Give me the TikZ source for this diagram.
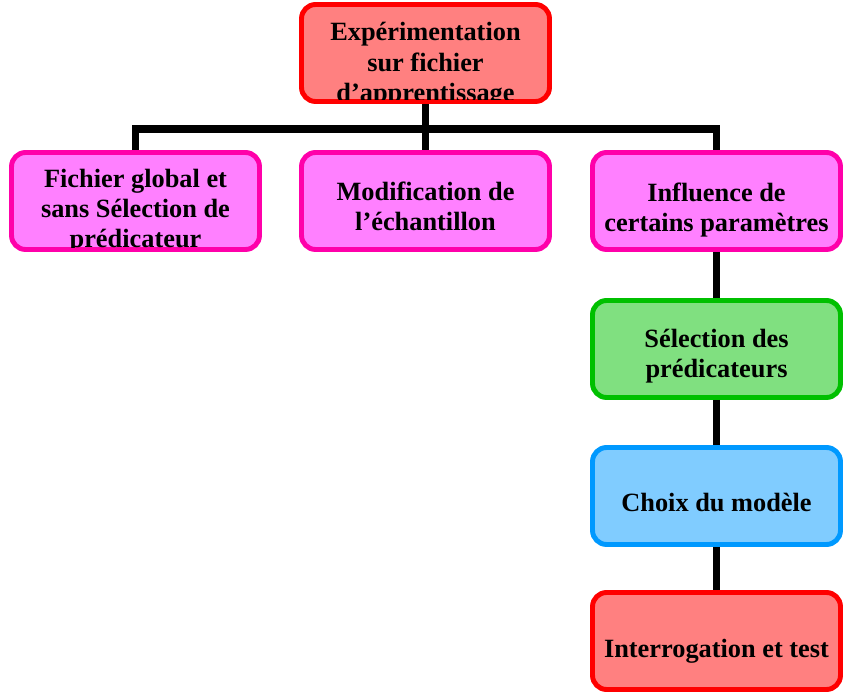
\documentclass[tikz,border=0pt]{standalone}
\usepackage{fontspec}
\setmainfont{Liberation Serif}

\definecolor{rougefond}{RGB}{255,128,128}
\definecolor{rougebord}{RGB}{255,0,0}
\definecolor{rosefond}{RGB}{255,128,255}
\definecolor{rosebord}{RGB}{255,0,170}
\definecolor{vertfond}{RGB}{128,224,128}
\definecolor{vertbord}{RGB}{0,192,0}
\definecolor{bleufond}{RGB}{128,204,255}
\definecolor{bleubord}{RGB}{0,153,255}

\begin{document}
\begin{tikzpicture}[x=0.02cm, y=-0.02cm]
	\tikzset{
		bloc/.style={rectangle, rounded corners=8pt, line width=2.8pt, minimum width=4.96cm, minimum height=1.94cm, inner sep=0pt},
		rouge/.style={bloc, draw=rougebord, fill=rougefond},
		rose/.style={bloc, draw=rosebord, fill=rosefond},
		vert/.style={bloc, draw=vertbord, fill=vertfond},
		bleu/.style={bloc, draw=bleubord, fill=bleufond},
		texte/.style={align=center, inner sep=0pt, font=\bfseries\fontsize{15}{17.3}\selectfont},
		lien/.style={line width=4.5pt}
	}
	\useasboundingbox (0,0) rectangle (843,692);

	% les blocs
	\node[rouge] (haut) at (425.5,53) {};
	\node[rose] (gauche) at (135.5,201) {};
	\node[rose] (milieu) at (425.5,201) {};
	\node[rose] (droite) at (716.5,201) {};
	\node[vert] (selection) at (716.5,349) {};
	\node[bleu] (modele) at (716.5,496) {};
	\node[rouge] (test) at (716.5,641) {};

	% textes (coupés au bord du bloc)
	\begin{scope}
		\clip ([shift={(2.8pt,2.8pt)}]haut.south west) rectangle ([shift={(-2.8pt,-2.8pt)}]haut.north east);
		\node[texte] (t-haut) at ([yshift=-6.8pt]haut.center) {Expérimentation\\sur fichier\\d’apprentissage};
	\end{scope}
	\begin{scope}
		\clip ([shift={(2.8pt,2.8pt)}]gauche.south west) rectangle ([shift={(-2.8pt,-2.8pt)}]gauche.north east);
		\node[texte] (t-gauche) at ([yshift=-5.8pt]gauche.center) {Fichier global et\\sans Sélection de\\prédicateur};
	\end{scope}
	\node[texte] (t-milieu) at ([yshift=-3pt]milieu.center) {Modification de\\l’échantillon};
	\node[texte] (t-droite) at ([yshift=-5pt]droite.center) {Influence de\\certains paramètres};
	\node[texte] (t-selection) at ([yshift=-4pt]selection.center) {Sélection des\\prédicateurs};
	\node[texte] (t-modele) at ([yshift=-3.8pt]modele.center) {Choix du modèle};
	\node[texte] (t-test) at ([yshift=-5.7pt]test.center) {Interrogation et test};

	% liaisons
	\coordinate (barre) at (0,129);
	\draw[lien] (haut.south) -- (milieu.north);
	\draw[lien] (gauche.north) -- (gauche.north |- barre) -- (droite.north |- barre) -- (droite.north);
	\foreach \a/\b in {droite/selection, selection/modele, modele/test}
		\draw[lien] (\a.south) -- (\b.north);
\end{tikzpicture}
\end{document}
